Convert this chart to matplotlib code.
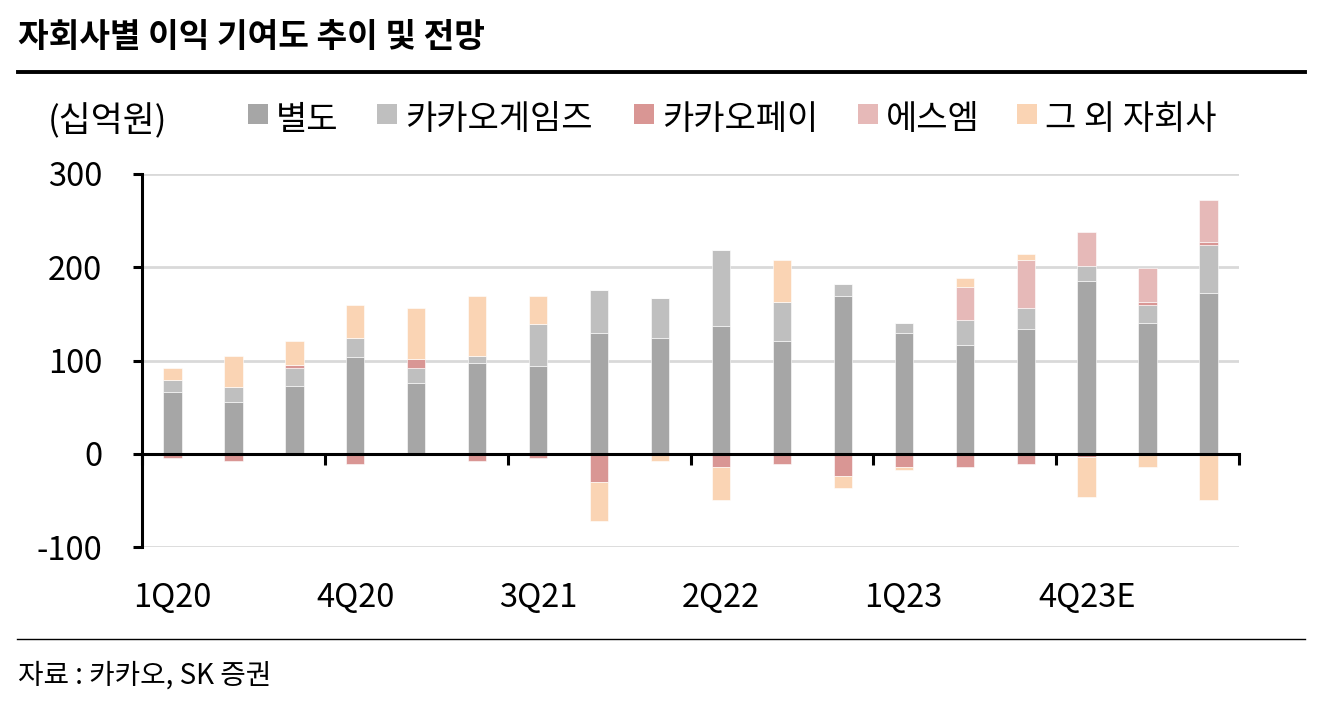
import matplotlib
matplotlib.use('Agg')
import matplotlib.pyplot as plt
from matplotlib.patches import Rectangle
from matplotlib.lines import Line2D
import numpy as np

plt.rcParams['font.family'] = ['Noto Sans CJK KR', 'DejaVu Sans']

# ---- data (십억원) ----
quarters = ['1Q20', '2Q20', '3Q20', '4Q20', '1Q21', '2Q21', '3Q21', '4Q21',
            '1Q22', '2Q22', '3Q22', '4Q22', '1Q23', '2Q23', '3Q23', '4Q23E',
            '1Q24E', '2Q24E']
standalone = [66, 56, 72.6, 104, 76, 97.5, 94.6, 130, 124, 137, 120.6, 169,
              130, 117, 133.6, 185.6, 140, 172.6]
games = [13, 16, 19.5, 20, 16, 7, 45, 46, 42.6, 81, 42, 12.6,
         9.7, 26, 22.7, 16, 20, 51.6]
pay = [-5, -8, 3.6, -11, 9.4, -8, -5, -30, 0, -14, -11, -24,
       -14, -14, -11, -4, 3, 3]
sm = [0, 0, 0, 0, 0, 0, 0, 0, 0, 0, 0, 0,
      0, 35.4, 51.6, 35.7, 35.7, 45.2]
others = [13, 32.5, 25, 36, 55, 65, 30, -42, -8, -36, 45, -13,
          -3, 10, 6.5, -42, -14, -50]

series_names = ['별도', '카카오게임즈', '카카오페이', '에스엠', '그 외 자회사']
series_values = [standalone, games, pay, sm, others]
colors = ['#A6A6A6', '#BFBFBF', '#D99694', '#E6B9B8', '#FAD4B4']
yticks = [-100, 0, 100, 200, 300]
label_every = 3

W, H = 1326, 704
fig = plt.figure(figsize=(W / 100, H / 100), dpi=100)

def fx(px):
    return px / W

def fy(py):
    return 1 - py / H

ax = fig.add_axes([fx(142), fy(547), fx(1239) - fx(142), fy(174) - fy(547)])

n = len(quarters)
x = np.arange(n)
pos_bottom = np.zeros(n)
neg_bottom = np.zeros(n)
for vals, c in zip(series_values, colors):
    v = np.array(vals, dtype=float)
    bottom = np.where(v >= 0, pos_bottom, neg_bottom)
    ax.bar(x, v, 0.3, bottom=bottom, color=c, edgecolor='white',
           linewidth=0.4, zorder=3)
    pos_bottom += np.clip(v, 0, None)
    neg_bottom += np.clip(v, None, 0)

ax.set_xlim(-0.5, n - 0.5)
ax.set_ylim(-100, 300)
ax.set_yticks(yticks)
ax.set_yticklabels([str(t) for t in yticks], fontsize=23.5)
ax.yaxis.grid(True, color='#D9D9D9', linewidth=2, zorder=0)
ax.set_axisbelow(True)

for s in ['top', 'right']:
    ax.spines[s].set_visible(False)
ax.spines['left'].set_linewidth(2.2)
ax.spines['bottom'].set_position(('data', 0))
ax.spines['bottom'].set_linewidth(2.2)
ax.spines['bottom'].set_zorder(4)

boundaries = np.arange(-0.5, n, label_every)
ax.set_xticks(boundaries)
ax.set_xticklabels([''] * len(boundaries))
ax.tick_params(axis='x', direction='out', length=8, width=2.2, color='black')
ax.tick_params(axis='y', direction='out', length=6.5, width=2.2, pad=22,
               color='black')

for i in range(0, n, label_every):
    ax.text(i, -0.137, quarters[i], transform=ax.get_xaxis_transform(),
            ha='center', va='center', fontsize=23.5)

# ---- title and rules ----
fig.text(fx(18), fy(38), '자회사별 이익 기여도 추이 및 전망', fontsize=24,
         fontweight='bold', ha='left', va='center')
fig.add_artist(Line2D([fx(18), fx(1305)], [fy(72), fy(72)], color='black',
                      linewidth=2.8))
fig.add_artist(Line2D([fx(17), fx(1305)], [fy(639), fy(639)], color='black',
                      linewidth=1.0))
fig.text(fx(18), fy(676), '자료 : 카카오, SK 증권', fontsize=20,
         ha='left', va='center')

# ---- legend ----
fig.text(fx(48), fy(122), '(십억원)', fontsize=25, ha='left', va='center')
marker_x = [248, 377, 634, 858, 1017]
for mx, name, c in zip(marker_x, series_names, colors):
    fig.add_artist(Rectangle((fx(mx), fy(124)), fx(20), fy(104) - fy(124),
                             transform=fig.transFigure, facecolor=c,
                             edgecolor='none'))
    fig.text(fx(mx + 28), fy(120), name, fontsize=24.5, ha='left', va='center')

fig.savefig('out.png', dpi=100, facecolor='white')
